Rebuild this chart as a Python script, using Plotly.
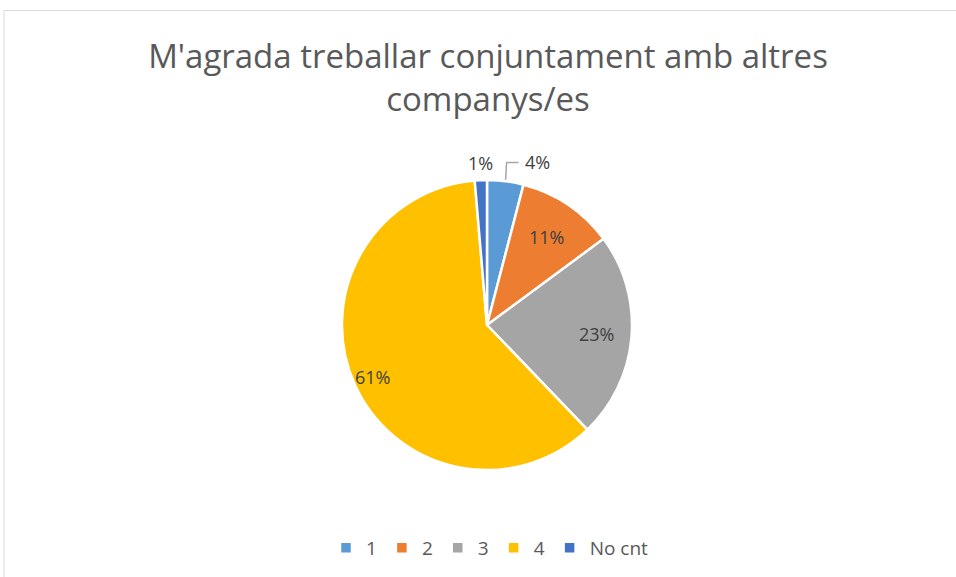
import math
import plotly.graph_objects as go

categories = ["1", "2", "3", "4", "No cnt"]
counts = [3, 8, 17, 45, 1]
colors = ["#5B9BD5", "#ED7D31", "#A5A5A5", "#FFC000", "#4472C4"]
# label placement style per slice: radial factor of the radius
label_radius = [1.14, 0.73, 0.76, 0.87, 1.12]

W, H = 956, 577
cx, cy, R = 487, 325, 145


def px(x):
    return x / W


def py(y):
    return 1 - y / H


fig = go.Figure(go.Pie(
    labels=categories,
    values=counts,
    sort=False,
    direction="clockwise",
    rotation=0,
    marker=dict(colors=colors, line=dict(color="white", width=2.5)),
    textinfo="none",
    domain=dict(x=[px(cx - R), px(cx + R)], y=[py(cy + R), py(cy - R)]),
    hoverinfo="label+percent",
))

total = sum(counts)
annotations = []
shapes = [dict(type="rect", xref="paper", yref="paper",
               x0=px(4), x1=1.02, y0=-0.02, y1=py(10.5),
               line=dict(color="#D9D9D9", width=1), fillcolor="rgba(0,0,0,0)")]
cum = 0
for i, v in enumerate(counts):
    mid = (cum + v / 2) / total * 2 * math.pi
    cum += v
    pct = f"{round(v / total * 100)}%"
    r = label_radius[i] * R
    lx = cx + r * math.sin(mid)
    ly = cy - r * math.cos(mid)
    if i == 0:
        # leader line from slice edge, label pushed right
        sx = cx + 1.01 * R * math.sin(mid)
        sy = cy - 1.01 * R * math.cos(mid)
        ty = cy - 1.12 * R
        shapes.append(dict(type="path", xref="paper", yref="paper",
                           path=f"M {px(sx)} {py(sy)} L {px(sx + 1)} {py(ty)} L {px(sx + 13)} {py(ty)}",
                           line=dict(color="#A6A6A6", width=1.5)))
        lx, ly = sx + 32, ty - 1
    annotations.append(dict(x=px(lx), y=py(ly), xref="paper", yref="paper",
                            xanchor="center", yanchor="middle",
                            text=pct, showarrow=False,
                            font=dict(family="Open Sans", size=18, color="#404040")))

fig.update_layout(
    width=W, height=H,
    margin=dict(l=0, r=0, t=0, b=0),
    paper_bgcolor="white",
    title=dict(
        text="M'agrada treballar conjuntament amb altres<br>companys/es",
        x=px(488), xanchor="center", y=py(68), yanchor="top",
        font=dict(family="Open Sans", size=33, color="#595959"),
    ),
    legend=dict(
        orientation="h", x=px(490), xanchor="center", y=py(548), yanchor="middle",
        font=dict(family="Open Sans", size=19, color="#595959"),
        itemwidth=30,
    ),
    annotations=annotations,
    shapes=shapes,
)

fig.write_html("out.html", config={"displayModeBar": False},
               post_script="document.body.style.margin='0px';")
